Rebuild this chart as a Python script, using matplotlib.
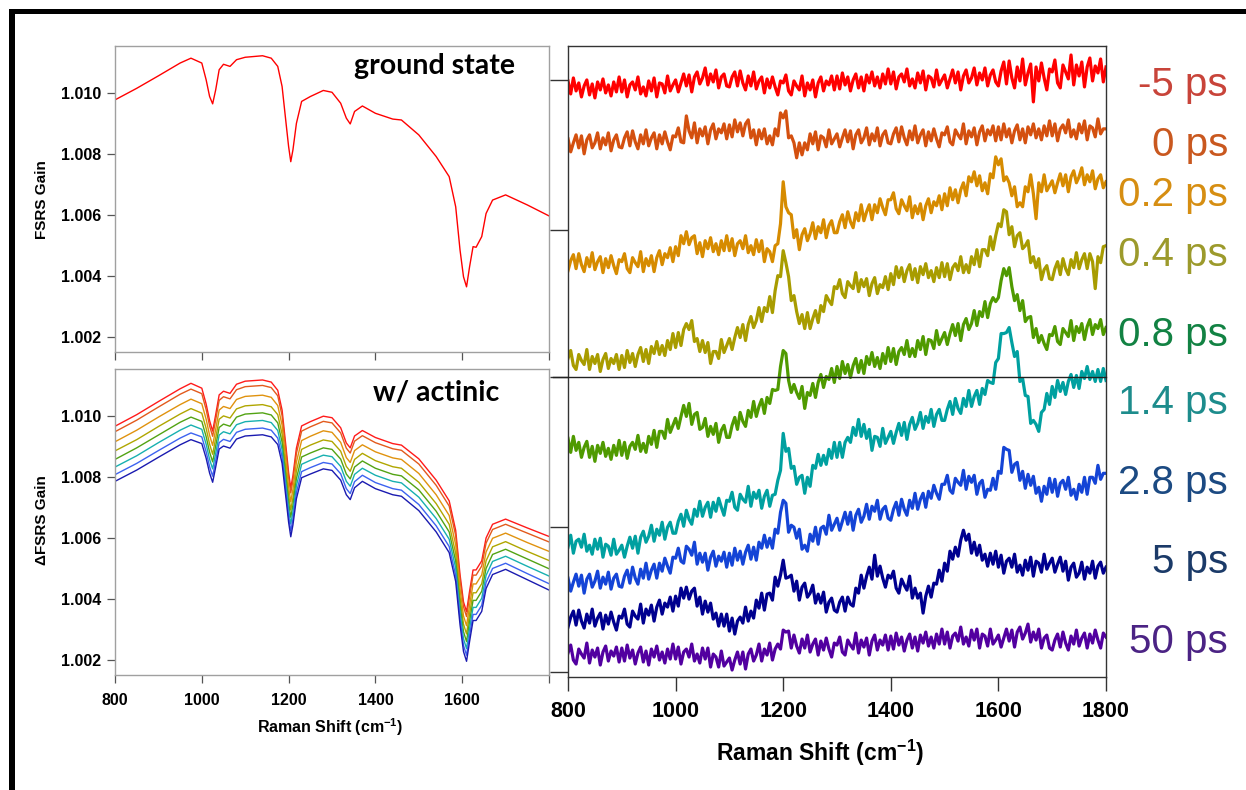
import numpy as np
import matplotlib.pyplot as plt
from matplotlib.patches import Rectangle

plt.rcParams['font.family'] = ['Liberation Sans', 'DejaVu Sans']
plt.rcParams['mathtext.fontset'] = 'custom'
plt.rcParams['mathtext.rm'] = 'Liberation Sans:bold'
plt.rcParams['mathtext.default'] = 'rm'

# ---- left panels: stimulated Raman gain spectra ----
shift_l = [800, 850, 900, 950, 975, 1000, 1010, 1018, 1025, 1032, 1040, 1050, 1065, 1080,
           1100, 1140, 1160, 1175, 1185, 1195, 1200, 1205, 1210, 1218, 1230, 1250, 1280,
           1300, 1320, 1333, 1342, 1352, 1370, 1400, 1440, 1460, 1500, 1540, 1570, 1585,
           1595, 1603, 1610, 1617, 1625, 1632, 1645, 1655, 1670, 1700, 1750, 1800]

ground = [1.00978, 1.01016, 1.01057, 1.01099, 1.01115, 1.01099, 1.01044, 1.00989, 1.00965, 1.01011,
          1.01077, 1.01095, 1.01088, 1.01110, 1.01118, 1.01123, 1.01115, 1.01088, 1.01022, 1.00890,
          1.00825, 1.00775, 1.00814, 1.00901, 1.00973, 1.00989, 1.01009, 1.01003, 1.00967, 1.00918,
          1.00899, 1.00940, 1.00958, 1.00934, 1.00915, 1.00912, 1.00863, 1.00792, 1.00726, 1.00627,
          1.00485, 1.00397, 1.00364, 1.00430, 1.00496, 1.00494, 1.00529, 1.00605, 1.00649, 1.00666,
          1.00633, 1.00597]

act1 = [1.00967, 1.01005, 1.01048, 1.01090, 1.01108, 1.01092, 1.01040, 1.00985, 1.00951, 1.01005,
        1.01070, 1.01082, 1.01075, 1.01105, 1.01115, 1.01119, 1.01112, 1.01085, 1.01020, 1.00885,
        1.00815, 1.00764, 1.00805, 1.00895, 1.00968, 1.00982, 1.01000, 1.00995, 1.00962, 1.00912,
        1.00896, 1.00935, 1.00953, 1.00930, 1.00910, 1.00905, 1.00860, 1.00790, 1.00722, 1.00625,
        1.00480, 1.00390, 1.00358, 1.00425, 1.00495, 1.00495, 1.00525, 1.00600, 1.00645, 1.00662,
        1.00633, 1.00605]
act2 = [1.00949, 1.00987, 1.01030, 1.01072, 1.01089, 1.01074, 1.01022, 1.00968, 1.00934, 1.00988,
        1.01052, 1.01064, 1.01057, 1.01087, 1.01097, 1.01101, 1.01094, 1.01067, 1.01002, 1.00868,
        1.00799, 1.00748, 1.00789, 1.00878, 1.00951, 1.00965, 1.00983, 1.00978, 1.00945, 1.00895,
        1.00879, 1.00918, 1.00936, 1.00913, 1.00893, 1.00888, 1.00843, 1.00773, 1.00705, 1.00608,
        1.00463, 1.00374, 1.00342, 1.00408, 1.00478, 1.00478, 1.00508, 1.00583, 1.00628, 1.00645,
        1.00616, 1.00587]
act3 = [1.00916, 1.00954, 1.00997, 1.01038, 1.01056, 1.01041, 1.00990, 1.00937, 1.00904, 1.00957,
        1.01020, 1.01032, 1.01025, 1.01055, 1.01065, 1.01069, 1.01062, 1.01035, 1.00971, 1.00838,
        1.00769, 1.00719, 1.00760, 1.00849, 1.00920, 1.00934, 1.00952, 1.00947, 1.00914, 1.00864,
        1.00848, 1.00887, 1.00906, 1.00883, 1.00863, 1.00858, 1.00812, 1.00742, 1.00674, 1.00578,
        1.00434, 1.00344, 1.00312, 1.00379, 1.00449, 1.00449, 1.00479, 1.00554, 1.00599, 1.00616,
        1.00585, 1.00556]
act4 = [1.00886, 1.00923, 1.00966, 1.01007, 1.01025, 1.01010, 1.00960, 1.00908, 1.00875, 1.00928,
        1.00990, 1.01001, 1.00994, 1.01024, 1.01034, 1.01038, 1.01031, 1.01005, 1.00941, 1.00809,
        1.00742, 1.00692, 1.00732, 1.00820, 1.00891, 1.00905, 1.00922, 1.00917, 1.00885, 1.00835,
        1.00819, 1.00858, 1.00878, 1.00854, 1.00834, 1.00829, 1.00783, 1.00713, 1.00645, 1.00549,
        1.00406, 1.00317, 1.00285, 1.00351, 1.00420, 1.00420, 1.00450, 1.00525, 1.00571, 1.00588,
        1.00556, 1.00526]
act5 = [1.00858, 1.00896, 1.00938, 1.00980, 1.00997, 1.00983, 1.00933, 1.00882, 1.00850, 1.00902,
        1.00963, 1.00974, 1.00967, 1.00997, 1.01007, 1.01011, 1.01004, 1.00978, 1.00915, 1.00784,
        1.00717, 1.00668, 1.00708, 1.00795, 1.00866, 1.00879, 1.00896, 1.00891, 1.00859, 1.00810,
        1.00794, 1.00833, 1.00853, 1.00829, 1.00809, 1.00804, 1.00758, 1.00688, 1.00620, 1.00524,
        1.00381, 1.00292, 1.00260, 1.00326, 1.00395, 1.00395, 1.00425, 1.00500, 1.00546, 1.00563,
        1.00531, 1.00499]
act6 = [1.00833, 1.00870, 1.00913, 1.00954, 1.00971, 1.00957, 1.00908, 1.00858, 1.00827, 1.00878,
        1.00938, 1.00949, 1.00942, 1.00972, 1.00982, 1.00986, 1.00979, 1.00953, 1.00890, 1.00761,
        1.00694, 1.00646, 1.00685, 1.00772, 1.00842, 1.00855, 1.00872, 1.00867, 1.00835, 1.00786,
        1.00770, 1.00809, 1.00829, 1.00806, 1.00786, 1.00781, 1.00734, 1.00664, 1.00596, 1.00501,
        1.00358, 1.00269, 1.00237, 1.00303, 1.00372, 1.00372, 1.00402, 1.00477, 1.00523, 1.00540,
        1.00507, 1.00475]
act7 = [1.00808, 1.00845, 1.00887, 1.00928, 1.00945, 1.00932, 1.00883, 1.00834, 1.00803, 1.00854,
        1.00913, 1.00924, 1.00917, 1.00947, 1.00957, 1.00961, 1.00954, 1.00928, 1.00866, 1.00737,
        1.00672, 1.00623, 1.00662, 1.00749, 1.00818, 1.00831, 1.00848, 1.00843, 1.00811, 1.00762,
        1.00746, 1.00785, 1.00806, 1.00782, 1.00762, 1.00757, 1.00710, 1.00640, 1.00572, 1.00477,
        1.00335, 1.00247, 1.00215, 1.00280, 1.00349, 1.00349, 1.00379, 1.00454, 1.00500, 1.00517,
        1.00483, 1.00450]
act8 = [1.00786, 1.00823, 1.00865, 1.00906, 1.00923, 1.00910, 1.00862, 1.00813, 1.00783, 1.00833,
        1.00892, 1.00902, 1.00895, 1.00925, 1.00935, 1.00939, 1.00932, 1.00907, 1.00845, 1.00717,
        1.00652, 1.00604, 1.00643, 1.00729, 1.00798, 1.00810, 1.00827, 1.00822, 1.00790, 1.00742,
        1.00726, 1.00765, 1.00786, 1.00762, 1.00742, 1.00737, 1.00690, 1.00620, 1.00552, 1.00457,
        1.00315, 1.00227, 1.00195, 1.00260, 1.00329, 1.00329, 1.00359, 1.00434, 1.00480, 1.00497,
        1.00463, 1.00429]
act_colors = ['#ff1a1a', '#e25a1c', '#e0920e', '#b0a600', '#52a313', '#17b0b0', '#3c62f0', '#1a1ab0']

# ---- right panel: transient FSRS difference spectra, every 5 cm-1 (arb. units) ----
shift_r = np.arange(800, 1801, 5)
fsrs_m5 = [7, -6, 10, -3, 5, -9, 2, 8, -7, 4, -10, 6, -2, 9, -5, 3, -8, 6, -4, 11,
           -4, 8, -9, 3, 6, -2, 11, -6, 1, -8, 7, -3, 10, -9, 5, 4, -5, 12, -3, 3,
           8, -4, 5, 14, 2, 13, -4, 11, 16, 4, 10, 20, 3, 14, 6, 18, 0, 11, 14, 2,
           1, 11, 16, 2, 17, 5, -2, 12, 2, 16, -1, 7, 11, -5, 9, 0, 11, 1, -7, 7,
           5, 13, -3, -7, 7, 2, -2, 12, -8, 5, -2, 8, -9, 5, 11, -3, 7, 3, 12, -2,
           12, -1, 15, 3, 11, -3, 8, 14, 0, 11, -3, 13, 5, 16, 2, 11, 0, 14, 4, 19,
           4, 16, -1, 11, 14, 6, 19, 2, 9, 0, 15, 5, 17, -2, 12, 10, 1, 18, 3, 8,
           13, 0, 9, 18, 5, 16, -2, 12, 18, 5, 10, 20, 3, 15, 8, 20, 2, 13, 18, 6,
           2, 17, 26, 4, 27, 10, 0, 21, 7, 29, 3, 15, 24, -14, 21, 7, 25, 10, -2, 19,
           16, 28, 5, 0, 23, 16, 9, 33, 3, 23, 12, 26, 1, 21, 30, 7, 22, 15, 29, 6,
           21]
fsrs_0 = [5, -8, 1, 9, -4, 8, -10, 4, 9, -4, 1, 11, -5, 6, -1, 11, -7, 4, 9, -3,
          -4, 6, 12, -2, 13, 2, -5, 9, 0, 14, -2, 6, 11, -5, 9, 0, 12, 2, -6, 8,
          7, 16, 2, 1, 28, 13, 6, 21, 1, 15, 8, 17, 0, 14, 20, 5, 15, 11, 20, 5,
          19, 7, 24, 12, 21, 8, 20, 24, 6, 14, -1, 14, 5, 15, 0, 8, -1, 15, 8, 31,
          26, 33, 6, 8, 1, -14, 1, -11, 1, -6, 10, 0, 12, -6, 8, 6, -3, 14, 0, 5,
          10, -3, 6, 14, 2, 13, -5, 9, 14, 1, 6, 16, -1, 10, 3, 16, -2, 9, 13, 1,
          0, 10, 16, 2, 17, 6, -1, 13, 4, 18, 1, 9, 14, -2, 12, 3, 15, 5, -3, 11,
          9, 17, 2, -1, 14, 9, 5, 20, 0, 13, 7, 16, -1, 12, 18, 3, 14, 9, 18, 3,
          17, 4, 20, 7, 15, 1, 13, 19, 4, 15, 1, 17, 9, 20, 6, 15, 4, 18, 8, 23,
          8, 20, 3, 15, 19, 11, 24, 7, 14, 5, 20, 11, 23, 4, 18, 16, 7, 25, 10, 15,
          15]
fsrs_02 = [-7, 3, 9, -5, 10, -1, -8, 6, -3, 11, -6, 2, 7, -9, 5, -4, 8, -2, -10, 4,
           2, 10, -5, -9, 6, 1, -3, 12, -8, 5, -2, 8, -8, 6, 13, -1, 10, 6, 16, 2,
           17, 8, 28, 20, 32, 19, 26, 28, 10, 21, 7, 23, 15, 26, 12, 20, 9, 23, 13, 28,
           13, 25, 8, 20, 23, 15, 28, 11, 18, 9, 24, 12, 23, 2, 15, 12, 2, 18, 20, 40,
           82, 57, 51, 49, 26, 34, 14, 29, 35, 23, 30, 41, 25, 37, 31, 44, 26, 38, 43, 31,
           31, 42, 49, 36, 52, 42, 36, 51, 43, 59, 43, 52, 59, 44, 59, 51, 65, 56, 49, 64,
           64, 71, 55, 50, 64, 58, 53, 67, 46, 58, 50, 60, 44, 58, 65, 51, 62, 58, 68, 54,
           70, 58, 76, 64, 74, 61, 74, 81, 68, 87, 82, 92, 78, 88, 73, 81, 70, 90, 86, 107,
           99, 105, 83, 87, 81, 68, 77, 57, 61, 57, 77, 72, 89, 70, 45, 81, 72, 89, 73, 78,
           83, 71, 81, 90, 78, 89, 72, 87, 93, 81, 87, 96, 79, 89, 82, 93, 75, 85, 89, 76,
           82]
fsrs_04 = [2, 10, -5, -9, 6, 0, -4, 11, -9, 4, -3, 6, -11, 1, 7, -8, 2, -3, 6, -9,
           5, -7, 10, -2, 7, -6, 6, 13, -1, 11, -3, 14, 7, 19, 6, 15, 5, 20, 11, 27,
           13, 28, 15, 31, 37, 31, 40, 19, 22, 9, 20, 8, 18, -3, 9, 9, 2, 21, 8, 15,
           22, 11, 23, 33, 23, 36, 20, 36, 44, 33, 40, 53, 39, 53, 49, 64, 48, 70, 85, 84,
           110, 98, 84, 60, 65, 49, 37, 46, 32, 48, 32, 42, 50, 38, 55, 49, 65, 60, 56, 74,
           72, 81, 67, 63, 79, 75, 72, 88, 69, 81, 74, 82, 65, 77, 83, 67, 76, 73, 84, 71,
           87, 76, 94, 83, 93, 79, 90, 96, 81, 92, 78, 94, 86, 97, 83, 90, 79, 93, 83, 98,
           84, 97, 81, 93, 97, 90, 104, 88, 96, 88, 104, 96, 111, 94, 111, 111, 105, 124, 111, 125,
           137, 134, 151, 149, 126, 134, 114, 125, 128, 112, 115, 120, 98, 104, 93, 102, 81, 91, 95, 82,
           81, 92, 99, 86, 102, 92, 86, 101, 93, 108, 92, 101, 107, 92, 107, 99, 72, 104, 98, 114,
           115]
fsrs_08 = [7, -7, 9, -5, 3, -12, -2, 4, -12, -1, -16, 0, -8, 3, -11, -3, -14, 0, -10, 5,
           -10, 3, -13, -1, 3, -4, 10, -6, 2, -7, 9, 1, 15, -2, 14, 14, 7, 26, 13, 20,
           27, 17, 29, 40, 29, 42, 21, 31, 33, 16, 18, 27, 9, 19, 11, 22, 3, 15, 20, 8,
           8, 20, 28, 16, 33, 24, 19, 35, 28, 44, 29, 39, 46, 32, 48, 42, 56, 55, 56, 79,
           95, 92, 65, 53, 61, 53, 47, 59, 37, 53, 50, 62, 48, 63, 71, 58, 69, 66, 77, 63,
           79, 67, 84, 72, 81, 68, 80, 87, 73, 85, 72, 89, 81, 93, 79, 88, 77, 92, 82, 98,
           84, 97, 81, 94, 98, 91, 105, 89, 97, 89, 105, 96, 109, 91, 106, 105, 97, 115, 101, 107,
           113, 101, 112, 121, 110, 122, 105, 121, 127, 116, 122, 135, 120, 134, 129, 144, 128, 142, 148, 144,
           148, 165, 177, 170, 178, 159, 145, 151, 135, 145, 124, 128, 129, 108, 117, 103, 110, 102, 96, 111,
           110, 119, 104, 101, 117, 113, 109, 125, 105, 119, 113, 122, 106, 119, 126, 111, 121, 117, 126, 111,
           118]
fsrs_14 = [-4, 8, -10, 2, 4, -4, 9, -8, -2, -11, 4, -6, 5, -14, -1, -3, -12, 4, -11, -7,
           -2, -14, -3, 6, -5, 7, -10, 6, 12, 1, 7, 18, 2, 14, 8, 21, 4, 16, 21, 10,
           10, 22, 29, 17, 33, 24, 19, 34, 27, 42, 27, 36, 41, 26, 41, 32, 45, 36, 28, 43,
           42, 51, 36, 33, 49, 44, 41, 57, 37, 51, 45, 53, 35, 47, 53, 37, 48, 49, 63, 73,
           110, 92, 95, 75, 77, 59, 66, 68, 50, 66, 57, 78, 75, 89, 78, 88, 79, 94, 85, 101,
           86, 101, 86, 101, 106, 101, 116, 108, 124, 107, 119, 105, 114, 93, 107, 106, 97, 115, 100, 106,
           112, 100, 111, 120, 108, 121, 104, 119, 126, 114, 120, 131, 115, 127, 121, 134, 117, 129, 134, 123,
           123, 134, 142, 129, 145, 135, 130, 145, 137, 153, 137, 147, 153, 139, 155, 149, 163, 161, 160, 181,
           185, 210, 210, 211, 216, 201, 187, 192, 162, 165, 148, 147, 120, 123, 119, 112, 131, 134, 150, 139,
           157, 146, 163, 152, 161, 149, 162, 169, 156, 168, 155, 172, 165, 177, 164, 172, 162, 174, 162, 175,
           163]
fsrs_28 = [5, -8, 1, 9, -3, 8, -10, 4, 9, -4, 2, 12, -5, 6, -1, 11, -6, 5, 9, -3,
           -4, 7, 13, 0, 16, 5, -1, 14, 5, 20, 4, 13, 19, 5, 20, 12, 25, 17, 10, 26,
           25, 35, 22, 20, 37, 34, 28, 41, 19, 30, 21, 30, 13, 26, 32, 17, 27, 22, 31, 16,
           30, 18, 35, 23, 32, 19, 31, 38, 24, 36, 23, 41, 35, 48, 36, 45, 35, 54, 50, 71,
           83, 80, 51, 58, 56, 45, 54, 34, 38, 32, 49, 42, 56, 39, 55, 57, 49, 68, 53, 59,
           65, 53, 62, 71, 59, 71, 53, 68, 74, 61, 67, 79, 64, 77, 72, 83, 64, 74, 77, 65,
           63, 74, 81, 68, 84, 74, 68, 83, 75, 90, 74, 84, 90, 76, 92, 85, 98, 90, 84, 99,
           99, 108, 93, 90, 105, 101, 98, 113, 94, 107, 101, 108, 89, 100, 103, 86, 94, 93, 105, 94,
           112, 110, 136, 134, 133, 111, 119, 121, 103, 112, 95, 109, 98, 107, 90, 96, 82, 97, 89, 105,
           91, 104, 87, 100, 103, 94, 106, 88, 94, 84, 99, 91, 106, 89, 106, 106, 100, 118, 104, 110,
           110]
fsrs_5 = [-7, 3, 9, -5, 10, -1, -8, 6, -3, 11, -6, 2, 7, -9, 5, -4, 8, -2, -10, 4,
          2, 11, -4, -7, 9, 4, 1, 16, -3, 11, 5, 15, -1, 13, 20, 6, 17, 13, 23, 9,
          24, 14, 32, 22, 33, 21, 29, 32, 14, 23, 6, 19, 8, 17, 1, 7, -6, 6, -6, 6,
          -11, 2, -14, -1, 3, -3, 13, -1, 9, 2, 20, 12, 27, 10, 26, 27, 20, 43, 34, 45,
          60, 42, 43, 45, 29, 39, 20, 33, 37, 23, 27, 35, 17, 26, 17, 28, 8, 18, 22, 10,
          8, 18, 23, 9, 23, 16, 14, 32, 27, 45, 32, 44, 53, 41, 65, 44, 54, 42, 33, 45,
          42, 49, 32, 27, 41, 35, 30, 44, 22, 32, 22, 27, 7, 24, 34, 23, 37, 36, 50, 39,
          57, 49, 69, 61, 73, 64, 80, 90, 80, 86, 67, 78, 65, 75, 60, 66, 54, 67, 56, 69,
          53, 65, 47, 59, 62, 53, 66, 48, 55, 45, 60, 50, 63, 44, 59, 57, 48, 66, 51, 57,
          62, 48, 56, 63, 49, 59, 40, 53, 57, 43, 47, 58, 41, 53, 47, 59, 42, 54, 58, 47,
          53]
fsrs_50 = [2, 10, -5, -9, 6, 1, -3, 12, -8, 5, -2, 7, -10, 3, 9, -6, 4, -1, 8, -7,
           7, -6, 10, -3, 5, -9, 2, 8, -7, 4, -10, 6, -2, 9, -5, 3, -8, 6, -4, 11,
           -4, 8, -9, 3, 6, -2, 11, -6, 1, -8, 7, -4, 7, -12, 1, -2, -12, 4, -11, -7,
           -3, -15, -5, 3, -9, 3, -14, 1, 6, -6, 0, 11, -6, 6, 0, 12, -5, 6, 11, 6,
           25, 23, 24, 7, 20, 9, 2, 16, 7, 20, 3, 11, 16, 0, 14, 5, 17, 6, -2, 12,
           10, 18, 3, 0, 15, 10, 6, 22, 2, 15, 8, 17, 0, 14, 20, 5, 15, 10, 20, 5,
           19, 6, 22, 10, 18, 4, 15, 21, 7, 18, 4, 20, 12, 23, 9, 18, 7, 21, 11, 26,
           11, 23, 7, 19, 22, 14, 28, 11, 18, 9, 25, 15, 26, 7, 21, 19, 9, 26, 11, 15,
           20, 8, 17, 26, 14, 25, 8, 23, 28, 16, 22, 31, 13, 23, 15, 26, 7, 17, 20, 7,
           5, 15, 21, 8, 23, 12, 5, 19, 11, 25, 9, 17, 22, 7, 21, 12, 25, 15, 7, 22,
           18]

delays = ['-5 ps', '0 ps', '0.2 ps', '0.4 ps', '0.8 ps', '1.4 ps', '2.8 ps', '5 ps', '50 ps']
trace_colors = ['#ff0000', '#d4500f', '#d68b00', '#a89c00', '#4f9a00', '#00a0a0', '#1444d6', '#00008f', '#5200a0']
label_colors = ['#c8443a', '#c9581f', '#d68e12', '#9c9a2c', '#128243', '#1d8c8c', '#1c4a82', '#1b3a68', '#4b2384']
stack_offsets = [585, 529, 409, 312, 227, 129, 89, 52, 17]
label_y = [85, 145, 195, 255, 335, 403, 483, 562, 642]   # pixel rows of the delay labels

W, H = 1246, 790
fig = plt.figure(figsize=(W / 100, H / 100), dpi=100)

def fx(px):
    return px / W

def fy(py):
    return 1 - py / H

frame_grey = '#a0a0a0'
ax1 = fig.add_axes([fx(115), fy(352), fx(549) - fx(115), fy(46) - fy(352)])
ax2 = fig.add_axes([fx(115), fy(675), fx(549) - fx(115), fy(369) - fy(675)])
for ax in (ax1, ax2):
    ax.set_xlim(800, 1800)
    ax.set_ylim(1.0015, 1.01155)
    ax.set_xticks([800, 1000, 1200, 1400, 1600, 1800])
    ax.set_yticks([1.002, 1.004, 1.006, 1.008, 1.010])
    ax.set_yticklabels(['1.002', '1.004', '1.006', '1.008', '1.010'])
    for s in ax.spines.values():
        s.set_color(frame_grey)
        s.set_linewidth(1.0)
    ax.tick_params(direction='out', length=6, width=0.9, color='#555555', pad=4)
    for lab in ax.get_yticklabels() + ax.get_xticklabels():
        lab.set_fontsize(11.5)
        lab.set_fontweight('bold')
ax1.set_xticklabels([])
ax2.set_xticklabels(['800', '1000', '1200', '1400', '1600', ''])
ax2.tick_params(axis='x', pad=7)

ax1.plot(shift_l, ground, color='#ff0000', lw=1.0)
for vals, c in zip([act1, act2, act3, act4, act5, act6, act7, act8], act_colors):
    ax2.plot(shift_l, vals, color=c, lw=1.0)

fig.text(fx(42), fy(200), 'FSRS Gain', rotation=90, ha='center', va='center', fontsize=11, fontweight='bold')
fig.text(fx(42), fy(520), '\u0394FSRS Gain', rotation=90, ha='center', va='center', fontsize=11, fontweight='bold')
fig.text(fx(330), fy(727), 'Raman Shift (cm$^{-1}$)', ha='center', va='center', fontsize=11.5, fontweight='bold')
fig.text(fx(434), fy(66), 'ground state', ha='center', va='center', fontsize=20.5, fontweight='bold', family=['Lato', 'DejaVu Sans'])
fig.text(fx(436), fy(393), 'w/ actinic', ha='center', va='center', fontsize=20.5, fontweight='bold', family=['Lato', 'DejaVu Sans'])

# right panel
ax3 = fig.add_axes([fx(568), fy(677), fx(1106) - fx(568), fy(46) - fy(677)])
ax3.set_xlim(800, 1800)
ax3.set_ylim(-5, 627)
ax3.set_xticks([800, 1000, 1200, 1400, 1600, 1800])
ax3.set_yticks([0, 145, 295, 443, 593])
ax3.set_yticklabels([])
for s in ax3.spines.values():
    s.set_color('#333333')
    s.set_linewidth(1.0)
ax3.tick_params(axis='y', direction='out', length=13, width=1.0, color='#333333')
ax3.tick_params(axis='x', direction='out', length=10, width=1.0, color='#333333', pad=7)
for lab in ax3.get_xticklabels():
    lab.set_fontsize(15.5)
    lab.set_fontweight('bold')

traces = [fsrs_m5, fsrs_0, fsrs_02, fsrs_04, fsrs_08, fsrs_14, fsrs_28, fsrs_5, fsrs_50]
for vals, off, c in zip(traces, stack_offsets, trace_colors):
    ax3.plot(shift_r, np.array(vals) + off, color=c, lw=2.3)

ax3.plot([-0.027, 1.0], [295, 295], color='#222222', lw=1.0,
         transform=ax3.get_yaxis_transform(), clip_on=False, zorder=5)

for name, yl, c in zip(delays, label_y, label_colors):
    fig.text(fx(1228), fy(yl), name, ha='right', va='center', fontsize=29, color=c)

fig.text(fx(820), fy(753), 'Raman Shift (cm$^{-1}$)', ha='center', va='center', fontsize=16.5, fontweight='bold')

# thick black border on top and left
fig.add_artist(Rectangle((fx(9), fy(14)), 1 - fx(9), fy(9) - fy(14), transform=fig.transFigure,
                         facecolor='black', edgecolor='none'))
fig.add_artist(Rectangle((fx(9), 0), fx(15) - fx(9), fy(9), transform=fig.transFigure,
                         facecolor='black', edgecolor='none'))

fig.savefig('out.png', dpi=100)
